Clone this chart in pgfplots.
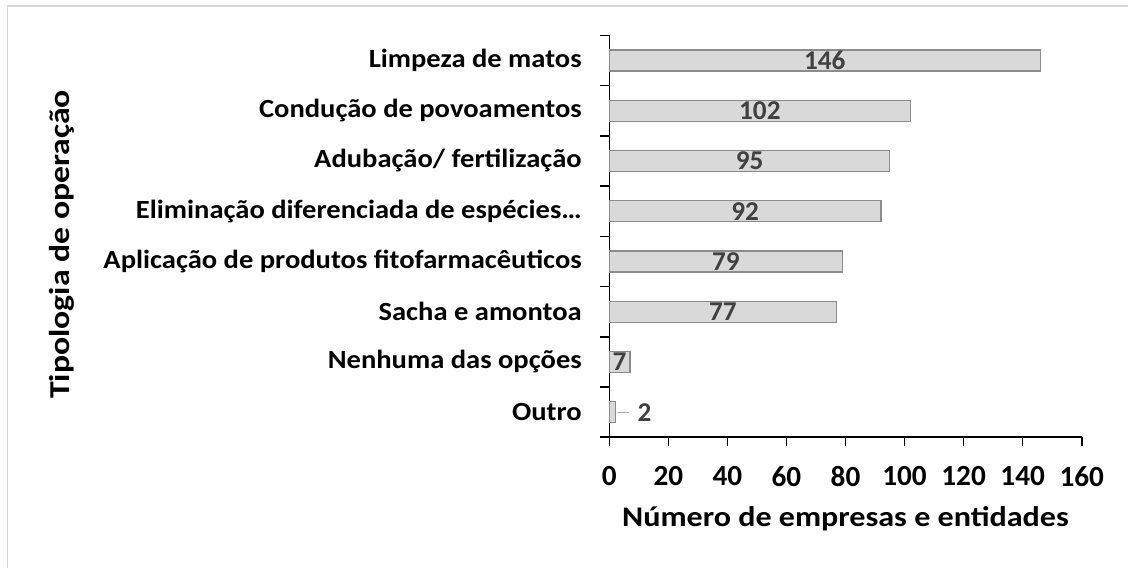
\documentclass[border=0pt]{standalone}
\usepackage{fontspec}
\setmainfont{Carlito}
\newfontfamily\widefont{Carlito}[FakeStretch=1.13]
\newfontfamily\catfont{Carlito}[FakeStretch=1.09]
\newfontfamily\ylabfont{Carlito}[FakeStretch=1.17]
\usepackage{pgfplots}
\usepackage{pgfplotstable}
\pgfplotsset{compat=1.18}
\definecolor{barfill}{HTML}{D9D9D9}
\definecolor{bardraw}{HTML}{8C8C8C}
\definecolor{lbl}{HTML}{404040}
\definecolor{framec}{HTML}{D9D9D9}
\definecolor{leader}{HTML}{A6A6A6}
\pgfplotstableread{
y v
0 2
1 7
2 77
3 79
4 92
5 95
6 102
7 146
}\datatable
\begin{document}
\begin{tikzpicture}
\useasboundingbox (0,0) rectangle (564pt,283.5pt);
\draw[framec, line width=0.7pt] (3.75pt,-5pt) -- (3.75pt,280.5pt) -- (570pt,280.5pt);
\begin{axis}[
  at={(304.65pt,64.85pt)}, anchor=south west,
  scale only axis, width=236.2pt, height=201pt,
  xmin=0, xmax=160, ymin=-0.5, ymax=7.5,
  clip=false,
  axis x line*=bottom, axis y line*=left,
  axis line style={line width=0.8pt, black, -},
  every tick/.style={black, line width=0.8pt},
  tick align=outside,
  major tick length=4.5pt,
  xtick={0,20,...,160},
  /pgf/number format/assume math mode=true,
  xticklabel style={font=\fontsize{14.6}{17}\selectfont\bfseries, inner sep=0pt, anchor=north, yshift=-10pt},
  ytick={-0.5,0.5,...,7.5},
  yticklabels={},
  extra y ticks={0,1,2,3,4,5,6,7},
  extra y tick labels={Outro, Nenhuma das opções, Sacha e amontoa, Aplicação de produtos fitofarmacêuticos, Eliminação diferenciada de espécies…, Adubação/ fertilização, Condução de povoamentos, Limpeza de matos},
  extra y tick style={tick style={draw=none}, major tick length=0pt,
    yticklabel style={font=\catfont\fontsize{13.1}{15}\selectfont\bfseries, inner sep=0pt, anchor=east, xshift=-13.6pt}},
  xlabel={Número de empresas e entidades},
  ylabel={Tipologia de operação},
  every axis x label/.style={at={(axis description cs:0.5,-0.203)}, anchor=center, font=\widefont\fontsize{14.2}{17}\selectfont\bfseries},
  every axis y label/.style={at={(axis description cs:-1.158,0.4796)}, anchor=center, rotate=90, font=\ylabfont\fontsize{14.4}{17}\selectfont\bfseries},
]
\addplot[xbar, bar width=10.5pt, fill=barfill, draw=bardraw, line width=0.6pt] table[x=v, y=y]{\datatable};
\addplot[only marks, mark=*, mark size=0pt, mark options={draw=none, fill=none},
  skip coords between index={0}{1},
  point meta=explicit, nodes near coords, nodes near coords align=center,
  every node near coord/.append style={font=\fontsize{13.6}{15}\selectfont\bfseries, text=lbl, inner sep=0pt}]
  table[x expr=\thisrow{v}/2, y=y, meta=v]{\datatable};
\addplot[only marks, mark=*, mark size=0pt, mark options={draw=none, fill=none},
  skip coords between index={1}{8},
  point meta=explicit,
  nodes near coords={{\color{leader}\rule[0.3em]{5.5pt}{0.5pt}}\hspace{4.5pt}\pgfmathprintnumber{\pgfplotspointmeta}},
  nodes near coords align=west,
  every node near coord/.append style={font=\fontsize{13.6}{15}\selectfont\bfseries, text=lbl, inner sep=0pt, xshift=1pt}]
  table[x=v, y=y, meta=v]{\datatable};
\end{axis}
\end{tikzpicture}
\end{document}
